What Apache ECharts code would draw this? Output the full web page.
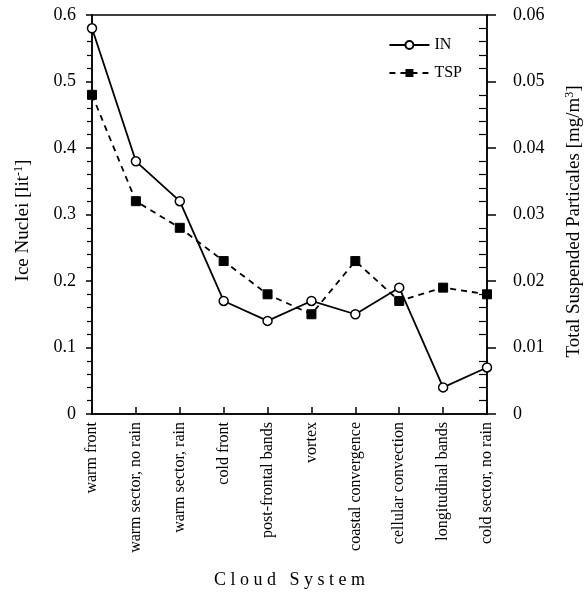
<!DOCTYPE html>
<html><head><meta charset="utf-8">
<script src="https://cdn.jsdelivr.net/npm/echarts@6/dist/echarts.min.js"></script>
<style>html,body{margin:0;padding:0;background:#fff}#c{width:585px;height:594px}</style>
</head><body><div id="c"></div>
<script>
const categories = ['warm front','warm sector, no rain','warm sector, rain','cold front','post-frontal bands','vortex','coastal convergence','cellular convection','longitudinal bands','cold sector, no rain'];
const inValues = [0.58,0.38,0.32,0.17,0.14,0.17,0.15,0.19,0.04,0.07];
const tspValues = [0.048,0.032,0.028,0.023,0.018,0.015,0.023,0.017,0.019,0.018];
const font = 'Liberation Serif';
const chart = echarts.init(document.getElementById('c'));
chart.setOption({
  animation:false,
  backgroundColor:'#fff',
  textStyle:{fontFamily:font,color:'#000'},
  grid:{left:92,right:98,top:15,bottom:180,show:true,borderColor:'#000',borderWidth:1.5,containLabel:false,outerBoundsMode:'none'},
  legend:{
    right:118, top:32, orient:'vertical', itemGap:12, itemWidth:40, itemHeight:10,
    textStyle:{fontFamily:font,fontSize:16,color:'#000'},
    data:[{name:'IN'},{name:'TSP'}]
  },
  xAxis:{
    type:'category', data:categories, boundaryGap:false,
    name:'C l o u d   S y s t e m', nameLocation:'middle', nameGap:157,
    nameTextStyle:{fontFamily:font,fontSize:18,color:'#000'},
    axisLine:{lineStyle:{color:'#000',width:1.5}},
    axisTick:{inside:true,length:7,lineStyle:{color:'#000',width:1.5}},
    axisLabel:{rotate:90,fontFamily:font,fontSize:16,color:'#000',margin:8,interval:0},
    splitLine:{show:false}
  },
  yAxis:[{
    type:'value', min:0, max:0.6, interval:0.1,
    name:'{a|Ice Nuclei [lit}{s|-1}{a|]}', nameLocation:'middle', nameGap:58, nameRotate:90,
    nameTextStyle:{padding:[0,12,0,0],rich:{a:{fontFamily:font,fontSize:19,color:'#000'},s:{fontFamily:font,fontSize:12,color:'#000',verticalAlign:'top',padding:[0,0,9,0]}}},
    axisLine:{show:true,lineStyle:{color:'#000',width:1.5}},
    axisTick:{show:true,inside:false,length:6,lineStyle:{color:'#000',width:1.5}},
    minorTick:{show:true,splitNumber:5,length:5,lineStyle:{color:'#000',width:1.2}},
    axisLabel:{fontFamily:font,fontSize:18,color:'#000',margin:16,formatter:v=>v===0?'0':v.toFixed(1)},
    splitLine:{show:false}
  },{
    type:'value', min:0, max:0.06, interval:0.01, position:'right',
    name:'{a|Total Suspended Particales [mg/m}{s|3}{a|]}', nameLocation:'middle', nameGap:77, nameRotate:90,
    nameTextStyle:{padding:[0,14,0,0],rich:{a:{fontFamily:font,fontSize:19,color:'#000'},s:{fontFamily:font,fontSize:12,color:'#000',verticalAlign:'top',padding:[0,0,9,0]}}},
    axisLine:{show:true,lineStyle:{color:'#000',width:1.5}},
    axisTick:{show:true,inside:false,length:9,lineStyle:{color:'#000',width:1.5}},
    minorTick:{show:true,splitNumber:5,length:-8,lineStyle:{color:'#000',width:1.2}},
    axisLabel:{fontFamily:font,fontSize:18,color:'#000',margin:26,formatter:v=>v===0?'0':v.toFixed(2)},
    splitLine:{show:false}
  }],
  series:[{
    name:'IN', type:'line', yAxisIndex:0, data:inValues,
    symbol:'circle', symbolSize:9, showAllSymbol:true,
    itemStyle:{color:'#fff',borderColor:'#000',borderWidth:1.5},
    lineStyle:{color:'#000',width:1.8,type:'solid'}
  },{
    name:'TSP', type:'line', yAxisIndex:1, data:tspValues,
    symbol:'rect', symbolSize:9, showAllSymbol:true,
    itemStyle:{color:'#000',borderColor:'#000'},
    lineStyle:{color:'#000',width:1.8,type:[6,5]}
  }]
});
</script></body></html>
